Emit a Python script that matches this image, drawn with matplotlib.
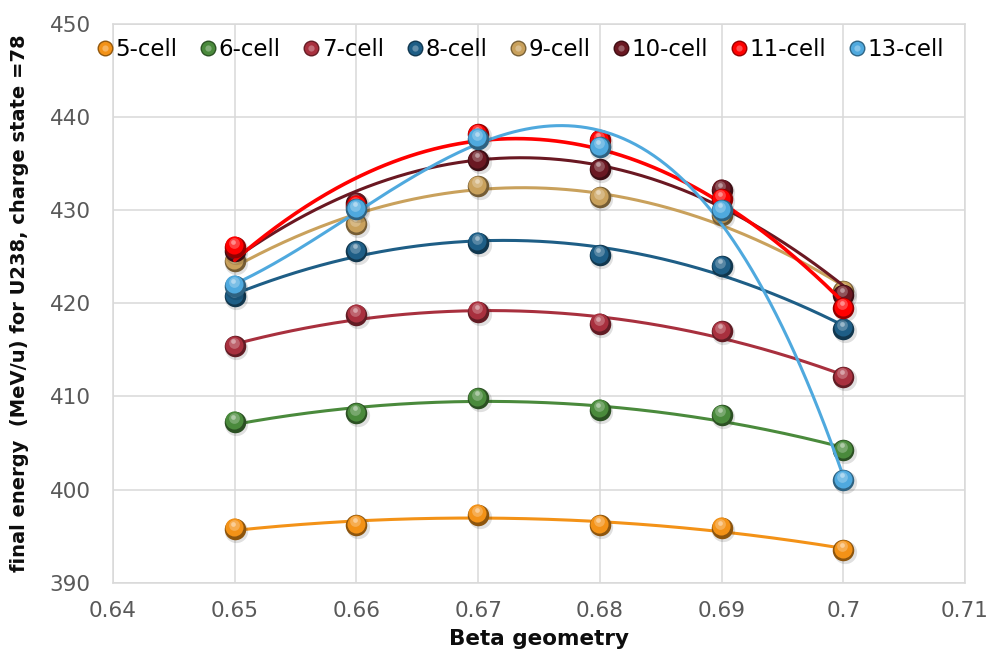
import matplotlib
matplotlib.use("Agg")
import matplotlib.pyplot as plt
import matplotlib.colors as mcolors
from matplotlib import transforms as mtrans
from matplotlib.lines import Line2D
from matplotlib.legend_handler import HandlerTuple
import numpy as np

# ---- data -------------------------------------------------------------
beta = [0.65, 0.66, 0.67, 0.68, 0.69, 0.70]

cell_5 = [395.8, 396.2, 397.3, 396.2, 395.9, 393.5]
cell_6 = [407.3, 408.2, 409.8, 408.6, 408.0, 404.2]
cell_7 = [415.4, 418.8, 419.1, 417.8, 417.0, 412.1]
cell_8 = [420.8, 425.6, 426.5, 425.2, 424.0, 417.3]
cell_9 = [424.5, 428.5, 432.6, 431.4, 429.5, 421.3]
cell_10 = [425.6, 430.8, 435.4, 434.4, 432.2, 420.9]
cell_11 = [426.1, 430.5, 438.2, 437.5, 431.2, 419.5]
cell_13 = [421.9, 430.1, 437.7, 436.8, 430.0, 401.0]

series_names = ["5-cell", "6-cell", "7-cell", "8-cell", "9-cell",
                "10-cell", "11-cell", "13-cell"]
series_values = [cell_5, cell_6, cell_7, cell_8, cell_9, cell_10, cell_11, cell_13]
series_colors = ["#F39217", "#4A8A3C", "#A8303E", "#1E5E86", "#C9A15C",
                 "#6A1822", "#FF0000", "#4FA9DE"]
trend_orders = [2, 2, 2, 2, 2, 2, 2, 3]

x_ticks = [0.64, 0.65, 0.66, 0.67, 0.68, 0.69, 0.70, 0.71]
x_tick_labels = ["0.64", "0.65", "0.66", "0.67", "0.68", "0.69", "0.7", "0.71"]
y_ticks = [390, 400, 410, 420, 430, 440, 450]

x_label = "Beta geometry"
y_label = "final energy  (MeV/u) for U238, charge state =78"

# ---- figure -----------------------------------------------------------
plt.rcParams["font.family"] = ["DejaVu Sans"]
fig = plt.figure(figsize=(9.93, 6.62), dpi=100)
ax = fig.add_axes([0.1138, 0.1198, 0.858, 0.8439])

grid_col = "#D9D9D9"
ax.set_xlim(x_ticks[0], x_ticks[-1])
ax.set_ylim(y_ticks[0], y_ticks[-1])
ax.set_xticks(x_ticks)
ax.set_xticklabels(x_tick_labels)
ax.set_yticks(y_ticks)
ax.grid(True, color=grid_col, linewidth=1.1)
ax.set_axisbelow(True)
for sp in ax.spines.values():
    sp.set_color(grid_col)
    sp.set_linewidth(1.1)
ax.tick_params(length=0, labelsize=15.5, labelcolor="#595959")
ax.tick_params(axis="x", pad=13)
ax.tick_params(axis="y", pad=16)


def shade(color, f):
    r, g, b = mcolors.to_rgb(color)
    if f < 0:
        return (r * (1 + f), g * (1 + f), b * (1 + f))
    return (r + (1 - r) * f, g + (1 - g) * f, b + (1 - b) * f)


def sphere(x, y, color, size, z):
    """Draw glossy ball markers built from stacked circles."""
    shadow_tr = mtrans.offset_copy(ax.transData, fig=fig, x=1.5, y=-2.0, units="dots")
    ax.plot(x, y, "o", ms=size * 1.08, color=(0, 0, 0, 0.12), mec="none",
            transform=shadow_tr, zorder=z, ls="none")
    ax.plot(x, y, "o", ms=size, color=shade(color, -0.42), mec="none",
            zorder=z + 0.1, ls="none")
    mid_tr = mtrans.offset_copy(ax.transData, fig=fig, x=-0.5, y=1.0, units="points")
    ax.plot(x, y, "o", ms=size * 0.84, color=color, mec="none",
            transform=mid_tr, zorder=z + 0.2, ls="none")
    lt_tr = mtrans.offset_copy(ax.transData, fig=fig, x=-0.8, y=2.6, units="points")
    ax.plot(x, y, "o", ms=size * 0.5, color=shade(color, 0.25), mec="none",
            transform=lt_tr, zorder=z + 0.3, ls="none")
    hl_tr = mtrans.offset_copy(ax.transData, fig=fig, x=-1.0, y=3.6, units="points")
    ax.plot(x, y, "o", ms=size * 0.22, color=shade(color, 0.55), mec="none",
            transform=hl_tr, zorder=z + 0.4, ls="none")


xs_fine = np.linspace(beta[0], beta[-1], 300)
handles = []
for i, (name, vals, col, order) in enumerate(zip(series_names, series_values,
                                                 series_colors, trend_orders)):
    z = 3 + i
    coeffs = np.polyfit(beta, vals, order)
    lw = 2.6 if name == "11-cell" else 2.2
    ax.plot(xs_fine, np.polyval(coeffs, xs_fine), color=col, lw=lw,
            zorder=z, solid_capstyle="round")
    sphere(beta, vals, col, 15.5, z + 0.01)
    h_base = Line2D([], [], marker="o", ls="none", ms=11.5,
                    color=shade(col, -0.4), mec="none")
    h_mid = Line2D([], [], marker="o", ls="none", ms=9.5, color=col, mec="none")
    h_hl = Line2D([], [], marker="o", ls="none", ms=4.5,
                  color=shade(col, 0.3), mec="none")
    handles.append((h_base, h_mid, h_hl))

leg = ax.legend(handles, series_names, ncol=8, loc="center",
                bbox_to_anchor=(0.478, 0.955), frameon=False,
                fontsize=16.5, handlelength=0.7, handletextpad=0.1,
                columnspacing=1.0, borderpad=0.0,
                handler_map={tuple: HandlerTuple(ndivide=1, pad=0)})
leg.set_zorder(20)

ax.set_xlabel(x_label, fontsize=15.5, fontweight="bold", color="#0D0D0D")
ax.xaxis.set_label_coords(0.5, -0.083)
ax.set_ylabel(y_label, fontsize=14, fontweight="bold", color="#0D0D0D")
ax.yaxis.set_label_coords(-0.099, 0.5)

fig.savefig("out.png", dpi=100)
